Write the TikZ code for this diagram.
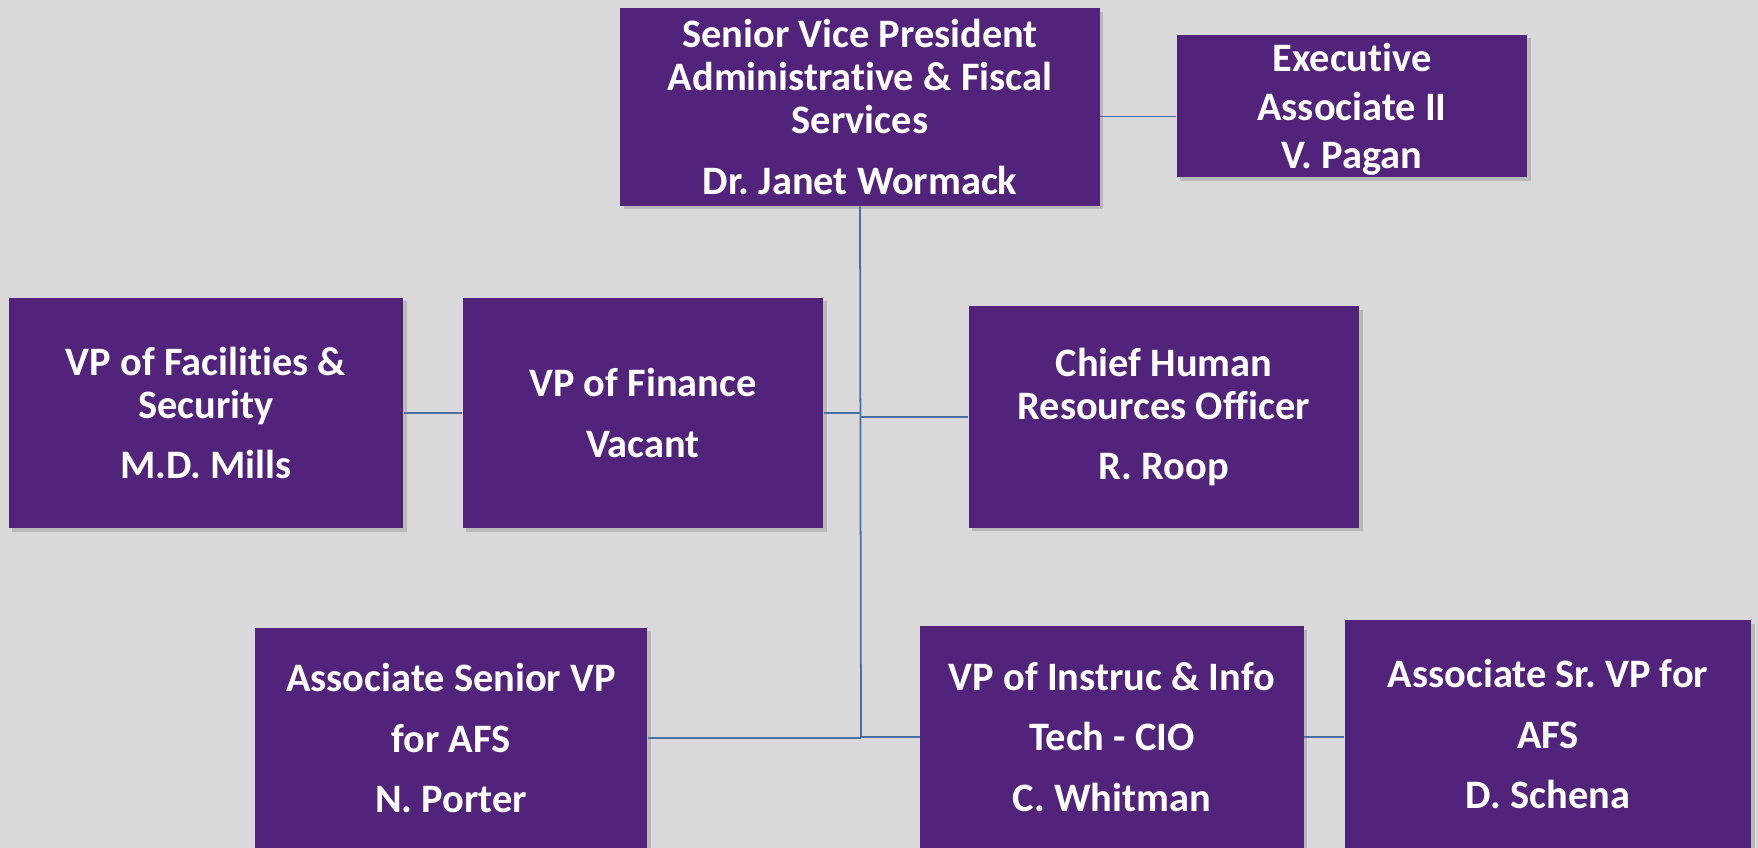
\documentclass[tikz,border=0pt]{standalone}
\usepackage{fontspec}
\setmainfont[RawFeature=-liga]{Carlito}
\usetikzlibrary{shadows}
\definecolor{boxpurple}{HTML}{51237A}
\definecolor{bggray}{HTML}{D9D9D9}
\definecolor{linkblue}{HTML}{4A6FA5}
\frenchspacing

\begin{document}
\begin{tikzpicture}[x=0.02cm, y=-0.02cm,
    post/.style={fill=boxpurple, text=white, align=center, inner sep=0pt,
        font=\bfseries\fontsize{23}{24.5}\selectfont,
        drop shadow={opacity=0.35, shadow xshift=2pt, shadow yshift=-2pt}},
    link/.style={draw=linkblue, line width=1pt}]
    \fill[bggray] (0, 0) rectangle (1758, 848);
    \useasboundingbox (0, 0) rectangle (1758, 848);

    \node[post, minimum width=9.6cm, minimum height=3.96cm] (svp) at (860, 107)
        {Senior Vice President\\Administrative \& Fiscal\\Services\\[10pt]Dr. Janet Wormack};
    \node[post, minimum width=7.02cm, minimum height=2.86cm] (exec) at (1352, 106)
        {\rule{0pt}{20pt}Executive\\[3pt]Associate II\\[3pt]V. Pagan};
    \node[post, minimum width=7.9cm, minimum height=4.62cm] (fac) at (206, 413)
        {VP of Facilities \&\\Security\\[10pt]M.D. Mills};
    \node[post, minimum width=7.22cm, minimum height=4.62cm] (fin) at (643, 413)
        {VP of Finance\\[10pt]Vacant};
    \node[post, minimum width=7.82cm, minimum height=4.44cm] (chro) at (1164, 417)
        {Chief Human\\Resources Officer\\[10pt]R. Roop};
    \node[post, minimum width=7.86cm, minimum height=4.42cm] (asvp) at (451, 738)
        {Associate Senior VP\\[10pt]for AFS\\[10pt]N. Porter};
    \node[post, minimum width=7.68cm, minimum height=4.44cm] (cio) at (1112, 737)
        {VP of Instruc \& Info\\[10pt]Tech - CIO\\[10pt]C. Whitman};
    \node[post, minimum width=8.14cm, minimum height=4.56cm] (dsch) at (1548, 734)
        {Associate Sr. VP for\\[10pt]AFS\\[10pt]D. Schena};

    \coordinate (trunk) at (861, 738);

    \draw[link] ([yshift=-6pt]exec.west) -- ([yshift=-6pt]exec.west -| svp.east);
    \draw[link] (svp.south) -- (trunk);
    \draw[link] (fac.east) -- (fin.west);
    \draw[link] (fin.east) -- (fin.east -| trunk);
    \draw[link] (chro.west -| trunk) -- (chro.west);
    \draw[link] (asvp.east) -- (asvp.east -| trunk);
    \draw[link] (cio.west -| trunk) -- (cio.west);
    \draw[link] (cio.east) -- (cio.east -| dsch.west);
\end{tikzpicture}
\end{document}
